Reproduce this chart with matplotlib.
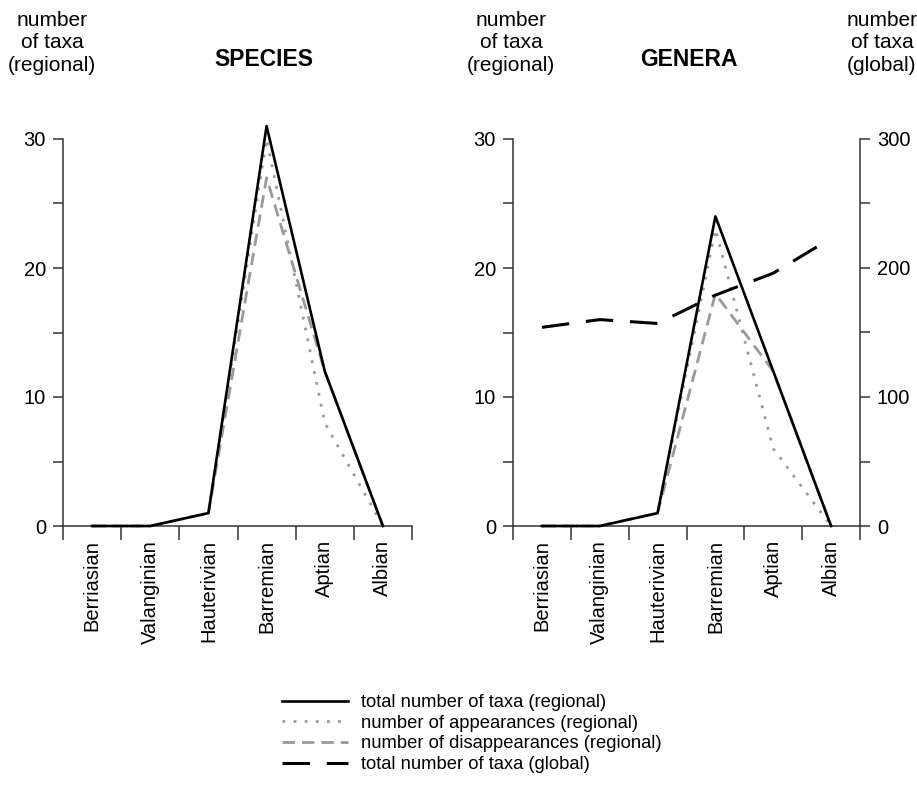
import matplotlib.pyplot as plt
from matplotlib.lines import Line2D
from matplotlib.ticker import FixedLocator, NullFormatter
import numpy as np

plt.rcParams['font.family'] = ['Liberation Sans', 'DejaVu Sans']

stages = ['Berriasian', 'Valanginian', 'Hauterivian', 'Barremian', 'Aptian', 'Albian']

# species (regional)
sp_total = [0, 0, 1, 31, 12, 0]
sp_appear = [0, 0, 1, 30, 8, 0]
sp_disappear = [0, 0, 1, 27, 12, 0]

# genera (regional)
gen_total = [0, 0, 1, 24, 12, 0]
gen_appear = [0, 0, 1, 23, 6, 0]
gen_disappear = [0, 0, 1, 18, 12, 0]

# genera (global)
gen_global = [154, 160, 157, 179, 196, 223]

labels = ['total number of taxa (regional)',
          'number of appearances (regional)',
          'number of disappearances (regional)',
          'total number of taxa (global)']

W, H = 917, 791
fig = plt.figure(figsize=(W / 100, H / 100), dpi=100)

spine_c = '#333333'
gray = '#9a9a9a'
x = np.arange(len(stages))


def fx(px):
    return px / W


def fy(py):
    return 1 - py / H


def setup(ax):
    ax.set_xlim(-0.5, 5.5)
    ax.set_ylim(0, 32)
    for s in ['top', 'right']:
        ax.spines[s].set_visible(False)
    for s in ['left', 'bottom']:
        ax.spines[s].set_color(spine_c)
        ax.spines[s].set_linewidth(1.1)
    ax.spines['left'].set_bounds(0, 30)
    # boundaries as major ticks, stage names on minor ticks
    ax.xaxis.set_major_locator(FixedLocator(np.arange(-0.5, 6, 1)))
    ax.xaxis.set_major_formatter(NullFormatter())
    ax.xaxis.set_minor_locator(FixedLocator(x))
    ax.set_xticklabels(stages, minor=True, rotation=90, fontsize=14.5, va='top')
    ax.tick_params(axis='x', which='major', direction='out', length=10, width=1.1, color=spine_c)
    ax.tick_params(axis='x', which='minor', length=0, pad=10)
    ax.yaxis.set_major_locator(FixedLocator([0, 10, 20, 30]))
    ax.yaxis.set_minor_locator(FixedLocator([5, 15, 25]))
    ax.tick_params(axis='y', which='both', direction='out', length=7.2, width=1.1, color=spine_c)
    ax.tick_params(axis='y', which='major', labelsize=14.5, pad=5)


def draw(ax, tot, app, dis):
    ax.plot(x, dis, color=gray, lw=2, ls=(0, (4.5, 2.5)), clip_on=False)
    ax.plot(x, app, color=gray, lw=2, ls=(0, (1, 3)), clip_on=False)
    ax.plot(x, tot, color='black', lw=1.9, clip_on=False, zorder=5)


y0, ytop = 526, 526 - 32 * 12.9
ax1 = fig.add_axes([fx(63), fy(y0), fx(412 - 63), (y0 - ytop) / H])
ax2 = fig.add_axes([fx(513), fy(y0), fx(860 - 513), (y0 - ytop) / H])
for ax in (ax1, ax2):
    setup(ax)
draw(ax1, sp_total, sp_appear, sp_disappear)
draw(ax2, gen_total, gen_appear, gen_disappear)

ax3 = ax2.twinx()
ax3.set_ylim(0, 320)
for s in ['top', 'left', 'bottom']:
    ax3.spines[s].set_visible(False)
ax3.spines['right'].set_color(spine_c)
ax3.spines['right'].set_linewidth(1.1)
ax3.spines['right'].set_bounds(0, 300)
ax3.yaxis.set_major_locator(FixedLocator([0, 100, 200, 300]))
ax3.yaxis.set_minor_locator(FixedLocator([50, 150, 250]))
ax3.tick_params(axis='y', which='both', direction='out', length=7.2, width=1.1, color=spine_c)
ax3.tick_params(axis='y', which='major', labelsize=14.5, pad=5)
ax3.plot(x, gen_global, color='black', lw=2.2, ls=(0, (9, 5.5)), clip_on=False)

# titles and axis captions
fig.text(fx(264), fy(60), 'SPECIES', ha='center', va='center', fontsize=16.5, fontweight='bold')
fig.text(fx(689), fy(60), 'GENERA', ha='center', va='center', fontsize=16.5, fontweight='bold')
cap = dict(ha='center', va='top', fontsize=15, linespacing=1.22)
fig.text(fx(52), fy(11), 'number\nof taxa\n(regional)', **cap)
fig.text(fx(511), fy(11), 'number\nof taxa\n(regional)', **cap)
fig.text(fx(882), fy(11), 'number\nof taxa\n(global)', **cap)

handles = [Line2D([], [], color='black', lw=1.9),
           Line2D([], [], color=gray, lw=2, ls=(0, (1, 3))),
           Line2D([], [], color=gray, lw=2, ls=(0, (4.5, 2.5))),
           Line2D([], [], color='black', lw=2.2, ls=(0, (9, 5.5)))]
fig.legend(handles, labels, loc='upper left', bbox_to_anchor=(fx(282), fy(694)),
           frameon=False, fontsize=13.2, handlelength=3.6, handletextpad=0.72,
           labelspacing=0.2, borderpad=0, borderaxespad=0)

fig.savefig('out.png', dpi=100)
